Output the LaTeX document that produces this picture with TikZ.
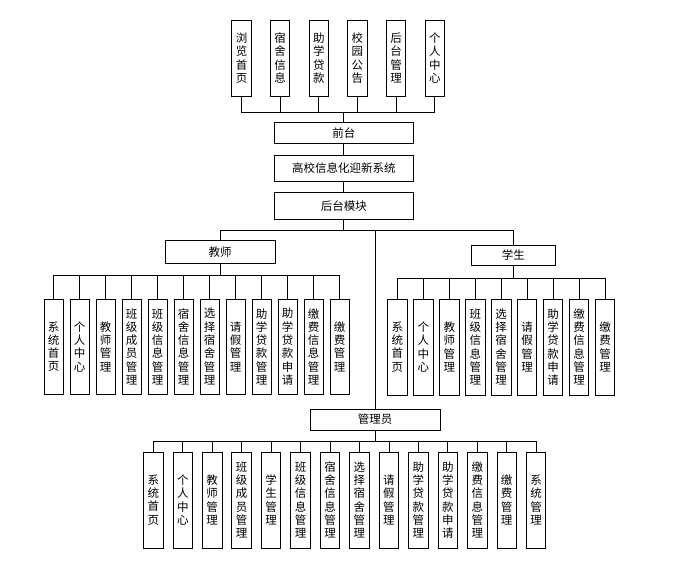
\documentclass[tikz,border=0pt]{standalone}
\usepackage{fontspec}
\newfontfamily\cjk{Noto Sans CJK SC}
\begin{document}
\begin{tikzpicture}[x=1pt,y=-1pt,
  box/.style={draw, line width=0.9pt, inner sep=0pt, align=center,
    font=\cjk\fontsize{11.5}{13.3}\selectfont},
  vbox/.style={box, minimum width=19.5, minimum height=#1},
  hbox/.style={box, minimum width=#1},
  link/.style={line width=0.7pt}]
\fill[white] (0,0) rectangle (688,565);
\useasboundingbox (0,0) rectangle (688,565);

% bus levels
\coordinate (fbus) at (0,112);
\coordinate (rbus) at (0,230);
\coordinate (tbus) at (0,275);
\coordinate (sbus) at (0,278);
\coordinate (abus) at (0,441.7);

% front-end pages
\foreach \lbl [count=\i from 0] in {{浏\\览\\首\\页},{宿\\舍\\信\\息},{助\\学\\贷\\款},{校\\园\\公\\告},{后\\台\\管\\理},{个\\人\\中\\心}} {
  \node[vbox=76] (f\i) at ({241.5+38.65*\i},58) {\lbl};
}

% main spine
\node[hbox=139.5, minimum height=20.6] (qt) at (343.75,133) {前台};
\node[hbox=139.5, minimum height=26.7] (sys) at (343.75,168.3) {高校信息化迎新系统};
\node[hbox=139.5, minimum height=27.5] (ht) at (343.75,205.8) {后台模块};

\foreach \i in {0,...,5} {
  \draw[link] (f\i.south) -- (f\i.south |- fbus) -| (qt.north);
}
\draw[link] (qt.south) -- (sys.north);
\draw[link] (sys.south) -- (ht.north);

% roles
\node[hbox=110, minimum height=23.3] (js) at (220,251.7) {教师};
\node[hbox=83.3, minimum height=20] (xs) at (513.3,255) {学生};
\node[hbox=130, minimum height=21] (gly) at (375,419.5) {管理员};

\draw[link] (ht.south) -- (ht.south |- rbus) -| (js.north);
\draw[link] (ht.south) -- (ht.south |- rbus) -| (xs.north);
\draw[link] (ht.south) -- (ht.south |- rbus) -| (gly.north);

% teacher functions
\foreach \lbl [count=\i from 0] in {{系\\统\\首\\页},{个\\人\\中\\心},{教\\师\\管\\理},{班\\级\\成\\员\\管\\理},{班\\级\\信\\息\\管\\理},{宿\\舍\\信\\息\\管\\理},{选\\择\\宿\\舍\\管\\理},{请\\假\\管\\理},{助\\学\\贷\\款\\管\\理},{助\\学\\贷\\款\\申\\请},{缴\\费\\信\\息\\管\\理},{缴\\费\\管\\理}} {
  \node[vbox=95.3] (t\i) at ({53.7+26*\i},346.7) {\lbl};
  \draw[link] (js.south) -- (js.south |- tbus) -| (t\i.north);
}

% student functions
\foreach \lbl [count=\i from 0] in {{系\\统\\首\\页},{个\\人\\中\\心},{教\\师\\管\\理},{班\\级\\信\\息\\管\\理},{选\\择\\宿\\舍\\管\\理},{请\\假\\管\\理},{助\\学\\贷\\款\\申\\请},{缴\\费\\信\\息\\管\\理},{缴\\费\\管\\理}} {
  \node[vbox=96] (s\i) at ({397.4+25.95*\i},347) {\lbl};
  \draw[link] (xs.south) -- (xs.south |- sbus) -| (s\i.north);
}

% administrator functions
\foreach \lbl [count=\i from 0] in {{系\\统\\首\\页},{个\\人\\中\\心},{教\\师\\管\\理},{班\\级\\成\\员\\管\\理},{学\\生\\管\\理},{班\\级\\信\\息\\管\\理},{宿\\舍\\信\\息\\管\\理},{选\\择\\宿\\舍\\管\\理},{请\\假\\管\\理},{助\\学\\贷\\款\\管\\理},{助\\学\\贷\\款\\申\\请},{缴\\费\\信\\息\\管\\理},{缴\\费\\管\\理},{系\\统\\管\\理}} {
  \node[vbox=96] (a\i) at ({153.3+29.45*\i},500) {\lbl};
  \draw[link] (gly.south) -- (gly.south |- abus) -| (a\i.north);
}
\end{tikzpicture}
\end{document}
